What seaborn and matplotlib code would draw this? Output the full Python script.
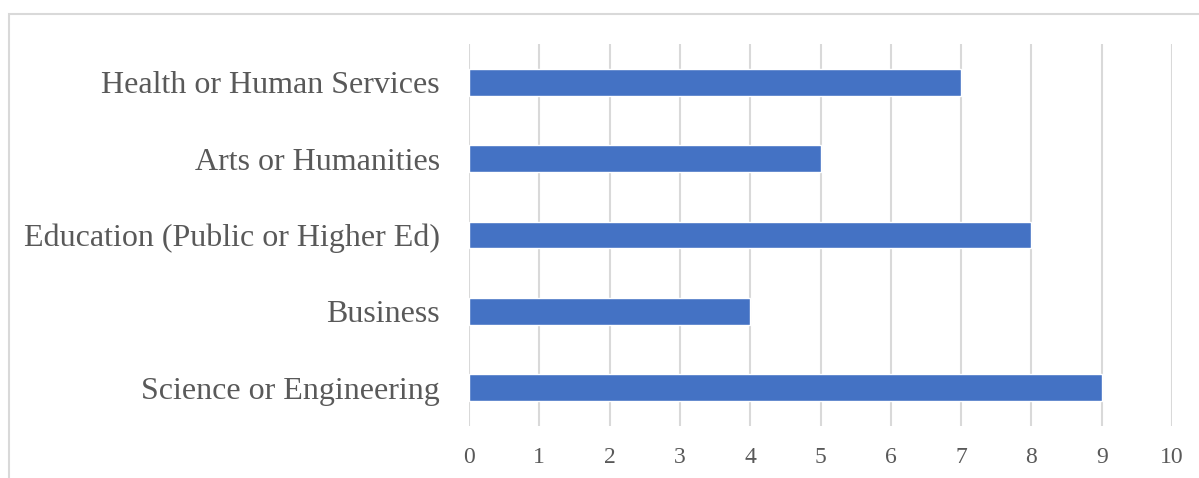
import matplotlib
matplotlib.use("Agg")
import matplotlib.pyplot as plt
from matplotlib.patches import Rectangle
import seaborn as sns
import pandas as pd

categories = [
    "Health or Human Services",
    "Arts or Humanities",
    "Education (Public or Higher Ed)",
    "Business",
    "Science or Engineering",
]
counts = [7, 5, 8, 4, 9]
x_ticks = list(range(0, 11))

sns.set_theme(style="white")
plt.rcParams["font.family"] = ["Liberation Serif", "DejaVu Serif"]

W, H = 1199, 478
fig = plt.figure(figsize=(W / 100, H / 100), dpi=100)
ax = fig.add_axes([469 / W, 1 - 426 / H, (1172 - 469) / W, (426 - 44) / H])

df = pd.DataFrame({"category": categories, "count": counts})
sns.barplot(data=df, x="count", y="category", orient="h", color="#4472C4",
            saturation=1, width=0.35, ax=ax, zorder=3)

ax.set_xlim(0, 10)
ax.set_ylim(4.5, -0.5)
ax.set_xticks(x_ticks)
ax.set_xlabel("")
ax.set_ylabel("")
ax.grid(axis="x", color="#d9d9d9", linewidth=1.5, zorder=0)
ax.set_axisbelow(True)
for s in ax.spines.values():
    s.set_visible(False)
ax.tick_params(axis="x", length=0, pad=15, labelsize=17, labelcolor="#595959")
ax.tick_params(axis="y", length=0, pad=21, labelsize=23, labelcolor="#595959")

# chart frame
fig.patches.append(Rectangle((8.5 / W, -0.1), 1.2, 1.1 - 14.5 / H,
                             transform=fig.transFigure, fill=False,
                             edgecolor="#d9d9d9", linewidth=1.5))

fig.savefig("out.png", dpi=100, facecolor="white")
